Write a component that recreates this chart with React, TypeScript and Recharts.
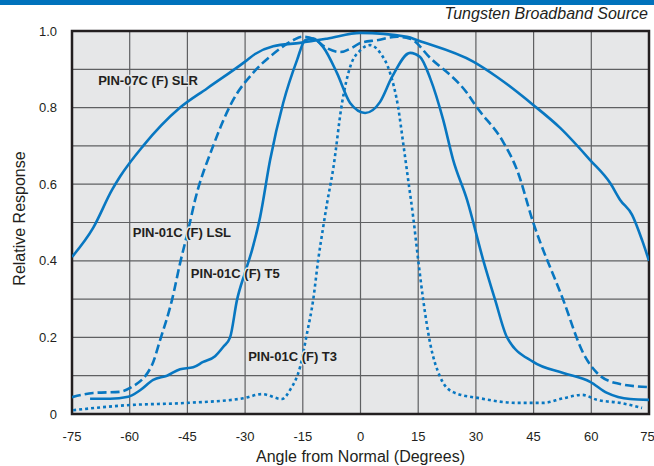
import React from 'react';
import {
  LineChart,
  Line,
  XAxis,
  YAxis,
  CartesianGrid,
  ReferenceArea,
  ReferenceDot,
} from 'recharts';

const FONT = '"Liberation Sans", Arial, Helvetica, sans-serif';
const BLUE = '#0877c1';
const INK = '#231f20';
const PLOT_BG = '#e6e7e8';

// angle (deg) / relative response
const slrAngle = [-75, -69.5, -64.6, -62.5, -56.5, -46.9, -39.9, -30, -27.4, -22.7, -15.7, -8.7, 0, 12.1, 15, 29.3, 35.5, 44.9, 51.9, 59.7, 64.9, 67.5, 70.6, 73.2, 75];
const slrValue = [0.41, 0.486, 0.585, 0.62, 0.7, 0.8, 0.85, 0.92, 0.94, 0.96, 0.969, 0.98, 0.995, 0.985, 0.975, 0.92, 0.88, 0.807, 0.747, 0.663, 0.603, 0.559, 0.52, 0.454, 0.4];

const lslAngle = [-75, -69.5, -62.5, -59.9, -54.2, -52.1, -49, -46.9, -44.8, -43, -38.3, -33.1, -28, -22.7, -17.5, -15.2, -12.3, -8.7, -5.3, -1.9, 0, 4.3, 9.5, 12.9, 18.1, 27.7, 30.3, 37.1, 40.7, 44.9, 52.7, 57.9, 61.5, 66.7, 75];
const lslValue = [0.044, 0.055, 0.058, 0.068, 0.128, 0.193, 0.298, 0.394, 0.48, 0.559, 0.7, 0.82, 0.89, 0.94, 0.976, 0.985, 0.98, 0.955, 0.945, 0.958, 0.969, 0.976, 0.985, 0.98, 0.93, 0.838, 0.8, 0.71, 0.637, 0.5, 0.298, 0.159, 0.107, 0.08, 0.07];

const t5Angle = [-70.3, -65.1, -60.4, -57.3, -53.9, -50.3, -46.9, -43.5, -40.9, -37.8, -35.7, -33.9, -32.1, -30, -28.2, -26.1, -23.5, -20.1, -16.5, -14.4, -12.3, -9.7, -6.1, -2.7, 1.2, 5.1, 8.2, 12.9, 15.5, 18.1, 21.5, 24.1, 27.7, 31.9, 35, 38.1, 44.9, 52.7, 59.7, 64.1, 70.1, 75];
const t5Value = [0.04, 0.04, 0.045, 0.062, 0.089, 0.1, 0.117, 0.122, 0.136, 0.151, 0.175, 0.2, 0.298, 0.37, 0.428, 0.514, 0.663, 0.812, 0.924, 0.976, 0.98, 0.958, 0.89, 0.812, 0.786, 0.815, 0.88, 0.943, 0.932, 0.877, 0.768, 0.663, 0.559, 0.402, 0.298, 0.2, 0.136, 0.107, 0.084, 0.055, 0.039, 0.037];

const t3Angle = [-74.7, -60.7, -45.1, -30.5, -25.6, -20.4, -18.3, -15.7, -13.9, -12.3, -11, -9.7, -8.7, -7.1, -4.8, -2.7, 0, 2.5, 5.1, 7.7, 9.8, 11.1, 12.4, 13.7, 15, 16.3, 18.1, 20.7, 24.1, 31.1, 40.7, 47.5, 52.7, 57.6, 61.5, 67.5, 73.2];
const t3Value = [0.01, 0.023, 0.029, 0.041, 0.052, 0.039, 0.063, 0.123, 0.211, 0.298, 0.402, 0.488, 0.55, 0.64, 0.812, 0.906, 0.95, 0.963, 0.943, 0.89, 0.8, 0.707, 0.611, 0.514, 0.402, 0.298, 0.185, 0.097, 0.057, 0.041, 0.029, 0.029, 0.041, 0.05, 0.037, 0.029, 0.016];

const xTicks = [-75, -60, -45, -30, -15, 0, 15, 30, 45, 60, 75];
const yTicks = [0, 0.1, 0.2, 0.3, 0.4, 0.5, 0.6, 0.7, 0.8, 0.9, 1];
const yTickLabels = ['0', '', '0.2', '', '0.4', '', '0.6', '', '0.8', '', '1.0'];

const curveLabels = [
  { text: 'PIN-07C (F) SLR', angle: -68.2, value: 0.872 },
  { text: 'PIN-01C (F) LSL', angle: -59.2, value: 0.475 },
  { text: 'PIN-01C (F) T5', angle: -44.1, value: 0.366 },
  { text: 'PIN-01C (F) T3', angle: -29.2, value: 0.149 },
];

const toPoints = (angles: number[], values: number[]) =>
  angles.map((angle, i) => ({ angle, value: values[i] }));

const slr = toPoints(slrAngle, slrValue);
const lsl = toPoints(lslAngle, lslValue);
const t5 = toPoints(t5Angle, t5Value);
const t3 = toPoints(t3Angle, t3Value);

const tickStyle = { fill: INK, fontSize: 13, fontFamily: FONT };

export default function App() {
  return (
    <div style={{ position: 'absolute', left: 0, top: 0, width: 654, height: 466, background: '#fff' }}>
      <div style={{ position: 'absolute', left: 0, top: 0, width: 654, height: 5, background: '#0072bc' }} />
      <div
        style={{
          position: 'absolute',
          right: 6,
          top: 5,
          fontFamily: FONT,
          fontStyle: 'italic',
          fontSize: 16,
          color: INK,
          lineHeight: '18px',
        }}
      >
        Tungsten Broadband Source
      </div>
      <LineChart width={654} height={466} margin={{ top: 31, right: 5, bottom: 0, left: 0 }}>
        <CartesianGrid stroke="#5f6062" strokeWidth={1.2} fill={PLOT_BG} fillOpacity={1} />
        <XAxis
          dataKey="angle"
          type="number"
          domain={[-75, 75]}
          ticks={xTicks}
          allowDataOverflow
          axisLine={false}
          tickLine={false}
          tickSize={0}
          tickMargin={18}
          height={52}
          tick={tickStyle}
          label={{
            content: ({ viewBox }: any) => (
              <text
                x={viewBox.x + viewBox.width / 2}
                y={viewBox.y + viewBox.height - 4}
                textAnchor="middle"
                fontFamily={FONT}
                fontSize={16}
                fill={INK}
              >
                Angle from Normal (Degrees)
              </text>
            ),
          }}
        />
        <YAxis
          type="number"
          domain={[0, 1]}
          ticks={yTicks}
          interval={0}
          tickFormatter={(v: number, i: number) => yTickLabels[i]}
          axisLine={false}
          tickLine={false}
          tickSize={0}
          tickMargin={15}
          width={72}
          tick={tickStyle}
          label={{
            content: ({ viewBox }: any) => {
              const cx = viewBox.x + 19;
              const cy = viewBox.y + viewBox.height / 2 - 4;
              return (
                <text
                  x={cx}
                  y={cy}
                  transform={`rotate(-90, ${cx}, ${cy})`}
                  textAnchor="middle"
                  dominantBaseline="central"
                  fontFamily={FONT}
                  fontSize={16}
                  fill={INK}
                >
                  Relative Response
                </text>
              );
            },
          }}
        />
        <Line data={slr} dataKey="value" type="monotone" stroke={BLUE} strokeWidth={2.6} dot={false} isAnimationActive={false} />
        <Line data={lsl} dataKey="value" type="monotone" stroke={BLUE} strokeWidth={2.6} strokeDasharray="9 4" dot={false} isAnimationActive={false} />
        <Line data={t5} dataKey="value" type="monotone" stroke={BLUE} strokeWidth={2.6} dot={false} isAnimationActive={false} />
        <Line data={t3} dataKey="value" type="monotone" stroke={BLUE} strokeWidth={2.6} strokeDasharray="3 3" dot={false} isAnimationActive={false} />
        <ReferenceArea x1={-75} x2={75} y1={0} y2={1} fill="none" fillOpacity={0} stroke={INK} strokeWidth={2.5} ifOverflow="visible" />
        {curveLabels.map((l) => (
          <ReferenceDot
            key={l.text}
            x={l.angle}
            y={l.value}
            r={0}
            fill="none"
            stroke="none"
            label={{
              content: ({ viewBox }: any) => (
                <text
                  x={viewBox.x}
                  y={viewBox.y}
                  dominantBaseline="central"
                  fontFamily={FONT}
                  fontWeight="bold"
                  fontSize={13}
                  fill={INK}
                  stroke={PLOT_BG}
                  strokeWidth={3}
                  paintOrder="stroke"
                >
                  {l.text}
                </text>
              ),
            }}
          />
        ))}
      </LineChart>
    </div>
  );
}
